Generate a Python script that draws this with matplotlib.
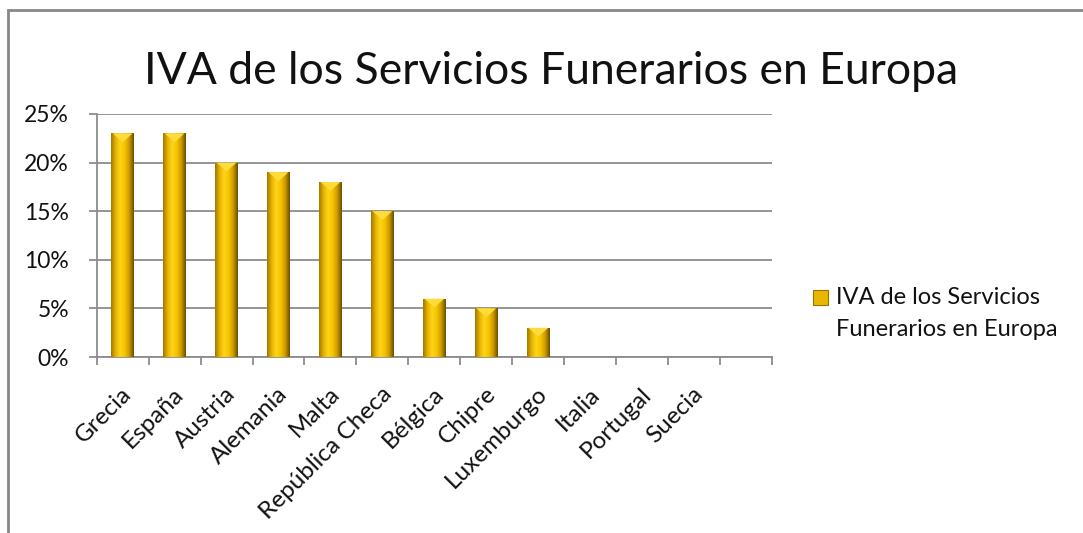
import numpy as np
import matplotlib
matplotlib.use("Agg")
import matplotlib.pyplot as plt
from matplotlib.patches import Rectangle
from matplotlib.colors import LinearSegmentedColormap
from matplotlib.ticker import FuncFormatter, FixedLocator

title = "IVA de los Servicios Funerarios en Europa"
countries = ["Grecia", "España", "Austria", "Alemania", "Malta", "República Checa",
             "Bélgica", "Chipre", "Luxemburgo", "Italia", "Portugal", "Suecia"]
iva = [23, 23, 20, 19, 18, 15, 6, 5, 3, 0, 0, 0]
yticks = [0, 5, 10, 15, 20, 25]
legend_lines = ["IVA de los Servicios", "Funerarios en Europa"]
n_slots = 13  # the category axis has one trailing empty slot

plt.rcParams['font.family'] = ['Lato', 'DejaVu Sans']

W, H = 1083, 533
fig = plt.figure(figsize=(W / 100, H / 100), dpi=100)
fig.patch.set_facecolor("white")

# outer frame (chart border)
fig.add_artist(Rectangle((8 / W, -0.2), 1.2, 0.2 + (1 - 10 / H), transform=fig.transFigure,
                         fill=False, edgecolor="#888888", linewidth=2))

ax = fig.add_axes([96.7 / W, 1 - 357 / H, (772 - 96.7) / W, (357 - 114) / H])
ax.set_facecolor("none")

x = np.arange(len(countries))
bars = ax.bar(x, iva, width=0.44, color="#E8B800", edgecolor="none", zorder=3)

# bevel-like gradient
cmap = LinearSegmentedColormap.from_list(
    "gold", ["#A07800", "#E8B400", "#FFD41C", "#F6C400", "#CC9C00", "#6A4E00"])
grad = np.linspace(0, 1, 64).reshape(1, -1)
for b in bars:
    h = b.get_height()
    if h <= 0:
        continue
    x0 = b.get_x()
    w = b.get_width()
    im = ax.imshow(grad, extent=[x0, x0 + w, 0, h], aspect="auto", cmap=cmap,
                   zorder=3.5, interpolation="bicubic")
    im.set_clip_path(b)
    tri = plt.Polygon([[x0 + 0.03, h], [x0 + w - 0.03, h], [x0 + w / 2, h - 0.9]], closed=True,
                      facecolor="#FFDC3C", edgecolor="none", zorder=4)
    ax.add_patch(tri)

ax.set_xlim(-0.5, n_slots - 0.5)
ax.set_ylim(0, 25)

ax.yaxis.set_major_locator(FixedLocator(yticks))
ax.yaxis.set_major_formatter(FuncFormatter(lambda v, p: f"{int(v)}%"))
ax.grid(axis="y", color="#8C8C8C", linewidth=1.3, zorder=0)
ax.set_axisbelow(True)

for s in ["top", "right"]:
    ax.spines[s].set_visible(False)
for s in ["left", "bottom"]:
    ax.spines[s].set_color("#8C8C8C")
    ax.spines[s].set_linewidth(1.3)

ax.set_xticks(np.arange(n_slots + 1) - 0.5)
ax.set_xticklabels([])
ax.tick_params(axis="x", length=6, width=1.3, color="#8C8C8C", direction="out")
ax.tick_params(axis="y", length=6, width=1.3, color="#8C8C8C", direction="out",
               labelsize=16.5, pad=14)
for t in ax.get_yticklabels():
    t.set_color("#111111")

for i, c in enumerate(countries):
    ax.text(i - 0.03, -2.7, c, rotation=45, rotation_mode="anchor",
            ha="right", va="top", fontsize=17.5, color="#111111",
            transform=ax.transData, clip_on=False)

fig.text(551 / W, 1 - 72 / H, title, ha="center", va="center", fontsize=32, color="#111111")

# legend
fig.add_artist(Rectangle((813 / W, 1 - 305 / H), 15 / W, 15 / H, transform=fig.transFigure,
                         facecolor="#E8B800", edgecolor="#9A7400", linewidth=0.8))
fig.text(836 / W, 1 - 298 / H, legend_lines[0], ha="left", va="center",
         fontsize=17, color="#111111")
fig.text(836 / W, 1 - 330 / H, legend_lines[1], ha="left", va="center",
         fontsize=17, color="#111111")

fig.savefig("out.png", dpi=100, facecolor="white")
